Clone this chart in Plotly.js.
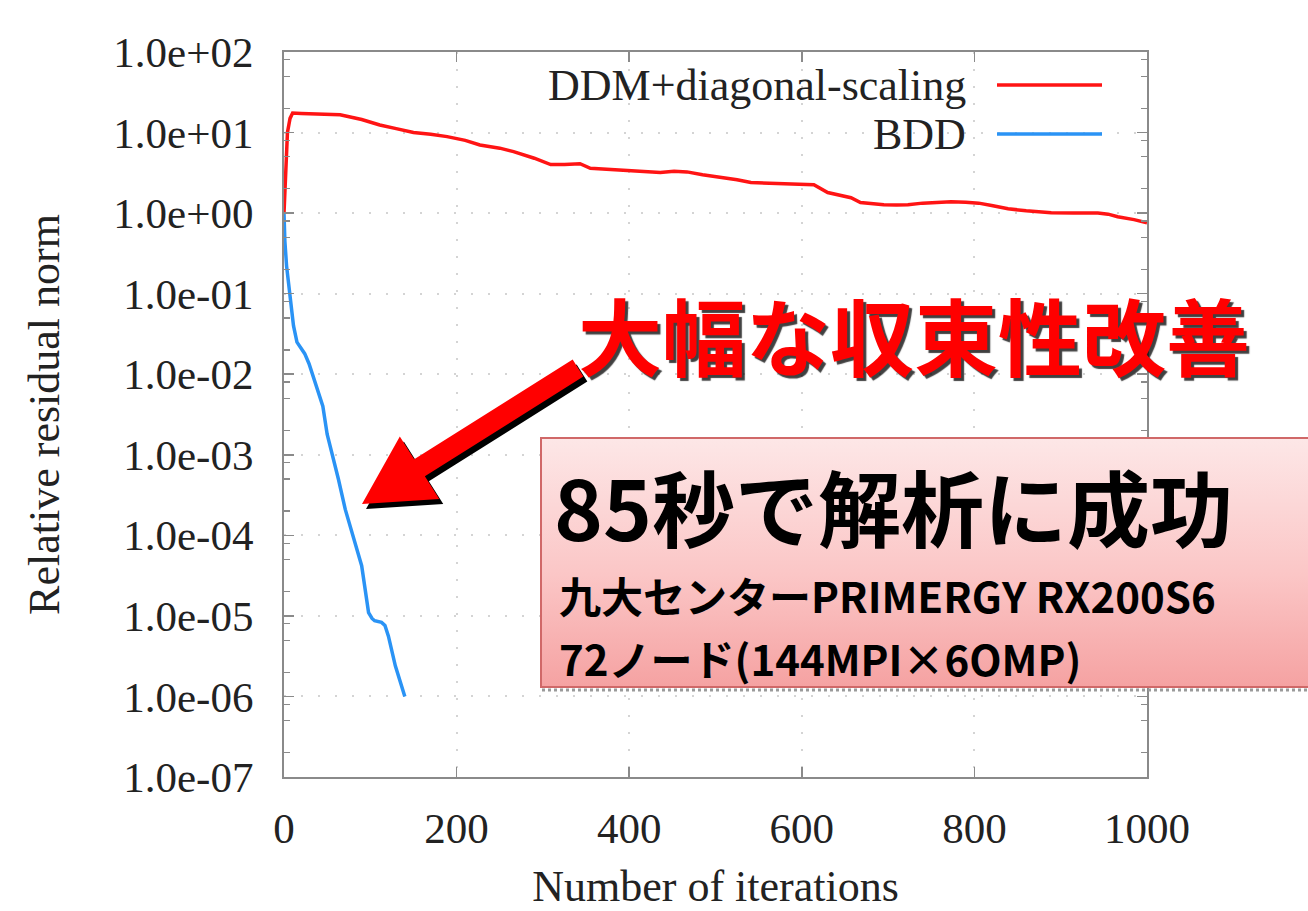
<!DOCTYPE html>
<html>
<head>
<meta charset="utf-8">
<script src="https://cdn.plot.ly/plotly-3.0.1.min.js"></script>
<style>
  html, body { margin: 0; padding: 0; background: #fff; }
  #chart { width: 1308px; height: 911px; }
</style>
</head>
<body>
<div id="chart"></div>
<script>
// Convergence history: relative residual norm vs. iteration count
const seriesNames = ['DDM+diagonal-scaling', 'BDD'];

const ddmIter = [0, 2, 4, 7, 10, 20, 40, 65, 90, 111, 130, 150, 170, 189, 210, 227, 250, 266, 290, 309,
  325, 343, 355, 375, 398, 420, 436, 452, 467, 485, 506, 525, 541, 560, 591, 614, 630, 645, 657, 668,
  680, 695, 710, 723, 740, 757, 773, 790, 805, 820, 839, 860, 889, 915, 943, 955, 966, 985, 1000];
const ddmResidual = [1.0, 4.0, 10.0, 15.0, 17.5, 17.3, 17.0, 16.6, 14.5, 12.4, 11.2, 10.0, 9.5, 8.9, 8.0, 7.0, 6.4, 5.8, 4.8, 4.0,
  4.0, 4.1, 3.6, 3.5, 3.35, 3.3, 3.2, 3.3, 3.25, 3.0, 2.8, 2.6, 2.4, 2.35, 2.3, 2.25, 1.8, 1.65, 1.55, 1.35,
  1.3, 1.27, 1.26, 1.27, 1.33, 1.36, 1.38, 1.36, 1.33, 1.24, 1.13, 1.07, 1.01, 1.0, 1.0, 0.97, 0.9, 0.83, 0.76];

const bddIter = [0, 1, 3, 5, 8, 11, 15, 20, 24, 29, 34, 40, 45, 50, 57, 63, 71, 80, 90, 98,
  102, 105, 113, 117, 121, 129, 135, 140];
const bddResidual = [1.0, 0.45, 0.22, 0.14, 0.08, 0.04, 0.025, 0.021, 0.018, 0.0135, 0.0093, 0.006, 0.004, 0.0018, 0.00095, 0.0005, 0.00021, 9.8e-5, 4.2e-5, 1.1e-5,
  9.3e-6, 8.7e-6, 8.3e-6, 7.6e-6, 5.6e-6, 2.4e-6, 1.5e-6, 1.0e-6];

const xTickVals = [0, 200, 400, 600, 800, 1000];
const yTickVals = [1e2, 1e1, 1e0, 1e-1, 1e-2, 1e-3, 1e-4, 1e-5, 1e-6, 1e-7];
const yTickText = ['1.0e+02', '1.0e+01', '1.0e+00', '1.0e-01', '1.0e-02', '1.0e-03', '1.0e-04', '1.0e-05', '1.0e-06', '1.0e-07'];

const xTitle = 'Number of iterations';
const yTitle = 'Relative residual norm';
const headline = '大幅な収束性改善';
const boxTitle = '85秒で解析に成功';
const boxLines = ['九大センターPRIMERGY RX200S6', '72ノード(144MPI×6OMP)'];

const RED = '#ff1414';
const BLUE = '#2a93f5';
const FRAME = '#8a8a8a';
const SERIF = 'Liberation Serif, Times New Roman, serif';
const CJK = 'Noto Sans CJK JP, Noto Sans, sans-serif';

// page geometry (pixels)
const W = 1308, H = 911;
const M = { l: 284, r: 161, t: 52, b: 134 };
const plotW = W - M.l - M.r, plotH = H - M.t - M.b;
const px = x => (x - M.l) / plotW;
const py = y => (H - M.b - y) / plotH;

// minor log ticks
const minorVals = [];
for (let e = -7; e < 2; e++) [2, 5, 8].forEach(m => minorVals.push(m * Math.pow(10, e)));

// callout box with vertical pink gradient
const boxX0 = 540, boxY0 = 437, boxW = 790, boxH = 251;
const boxSvg = `<svg xmlns="http://www.w3.org/2000/svg" width="${boxW}" height="${boxH}" viewBox="0 0 ${boxW} ${boxH}" preserveAspectRatio="none">` +
  `<defs><linearGradient id="g" x1="0" y1="0" x2="0" y2="1">` +
  `<stop offset="0" stop-color="#fde7e7"/><stop offset="0.55" stop-color="#fbc6c6"/><stop offset="1" stop-color="#f5a2a2"/></linearGradient></defs>` +
  `<rect x="1" y="1" width="${boxW - 2}" height="${boxH - 2}" fill="url(#g)" stroke="#d06868" stroke-width="2"/></svg>`;

// block arrow pointing at the BDD curve
function arrowPath(tip, tail, headLen, headHalf, shaftHalf, dx, dy) {
  const vx = tail[0] - tip[0], vy = tail[1] - tip[1];
  const len = Math.hypot(vx, vy);
  const ux = vx / len, uy = vy / len;
  const nx = -uy, ny = ux;
  const bx = tip[0] + headLen * ux, by = tip[1] + headLen * uy;
  const pts = [
    [tip[0], tip[1]],
    [bx + headHalf * nx, by + headHalf * ny],
    [bx + shaftHalf * nx, by + shaftHalf * ny],
    [tail[0] + shaftHalf * nx, tail[1] + shaftHalf * ny],
    [tail[0] - shaftHalf * nx, tail[1] - shaftHalf * ny],
    [bx - shaftHalf * nx, by - shaftHalf * ny],
    [bx - headHalf * nx, by - headHalf * ny]
  ];
  return 'M ' + pts.map(p => `${px(p[0] + dx).toFixed(5)},${py(p[1] + dy).toFixed(5)}`).join(' L ') + ' Z';
}
const arrowTip = [362, 504], arrowTail = [578, 368];

const traces = [
  { x: bddIter, y: bddResidual, name: seriesNames[1], mode: 'lines',
    line: { color: BLUE, width: 3.5 }, showlegend: false },
  { x: ddmIter, y: ddmResidual, name: seriesNames[0], mode: 'lines',
    line: { color: RED, width: 3.5 }, showlegend: false }
];

const axisCommon = {
  showline: true, linecolor: FRAME, linewidth: 2, mirror: 'ticks',
  ticks: 'inside', ticklen: 10, tickwidth: 1.5, tickcolor: FRAME,
  showgrid: true, gridcolor: '#d4d4d4', gridwidth: 2, griddash: '2px,15px',
  zeroline: false, automargin: false,
  tickfont: { family: SERIF, size: 43, color: '#222' }
};

const layout = {
  width: W, height: H,
  margin: M,
  paper_bgcolor: '#fff', plot_bgcolor: '#fff',
  showlegend: false,
  xaxis: Object.assign({}, axisCommon, {
    range: [0, 1000], tickmode: 'array', tickvals: xTickVals,
    ticklabelstandoff: 12,
    title: { text: xTitle, font: { family: SERIF, size: 44, color: '#222' }, standoff: 20 }
  }),
  yaxis: Object.assign({}, axisCommon, {
    type: 'log', range: [-7, 2], tickmode: 'array', tickvals: yTickVals, ticktext: yTickText,
    ticklabelstandoff: 20,
    minor: { tickmode: 'array', tickvals: minorVals, ticks: 'inside', ticklen: 6, tickwidth: 1.2, tickcolor: FRAME, showgrid: false },
    title: { text: yTitle, font: { family: SERIF, size: 44, color: '#222' }, standoff: 40 }
  }),
  images: [{
    source: 'data:image/svg+xml;charset=utf-8,' + encodeURIComponent(boxSvg),
    xref: 'paper', yref: 'paper', x: px(boxX0), y: py(boxY0),
    sizex: boxW / plotW, sizey: boxH / plotH, xanchor: 'left', yanchor: 'top',
    sizing: 'stretch', layer: 'above'
  }],
  shapes: [
    // legend samples
    { type: 'line', xref: 'paper', yref: 'paper', x0: px(997), x1: px(1102), y0: py(85), y1: py(85),
      line: { color: RED, width: 3.5 } },
    { type: 'line', xref: 'paper', yref: 'paper', x0: px(997), x1: px(1102), y0: py(134), y1: py(134),
      line: { color: BLUE, width: 3.5 } },
    // shadow under the callout box
    { type: 'line', xref: 'paper', yref: 'paper', x0: px(boxX0 + 2), x1: px(W + 10), y0: py(boxY0 + boxH + 2), y1: py(boxY0 + boxH + 2),
      line: { color: '#9a9a9a', width: 3, dash: 'dot' } },
    // arrow shadow and arrow
    { type: 'path', xref: 'paper', yref: 'paper', path: arrowPath(arrowTip, arrowTail, 68, 37, 10, 4, 5),
      fillcolor: '#000', line: { width: 0 } },
    { type: 'path', xref: 'paper', yref: 'paper', path: arrowPath(arrowTip, arrowTail, 68, 37, 10, 0, 0),
      fillcolor: '#ff0000', line: { width: 0 } }
  ],
  annotations: [
    // legend labels
    { xref: 'paper', yref: 'paper', x: px(968), y: py(85), xanchor: 'right', yanchor: 'middle',
      text: seriesNames[0], showarrow: false, font: { family: SERIF, size: 44, color: '#222' } },
    { xref: 'paper', yref: 'paper', x: px(968), y: py(134), xanchor: 'right', yanchor: 'middle',
      text: seriesNames[1], showarrow: false, font: { family: SERIF, size: 44, color: '#222' } },
    // headline
    { xref: 'paper', yref: 'paper', x: px(914), y: py(333), xanchor: 'center', yanchor: 'middle',
      text: headline, showarrow: false,
      font: { family: CJK, size: 84, weight: 'bold', color: '#ff0000', shadow: '3px 3px 1px rgba(0,0,0,0.75)' } },
    // callout text
    { xref: 'paper', yref: 'paper', x: px(552), y: py(505), xanchor: 'left', yanchor: 'middle',
      text: boxTitle, showarrow: false, font: { family: CJK, size: 83, weight: 'bold', color: '#000' } },
    { xref: 'paper', yref: 'paper', x: px(557), y: py(594), xanchor: 'left', yanchor: 'middle',
      text: boxLines[0], showarrow: false, font: { family: CJK, size: 42, weight: 'bold', color: '#000' } },
    { xref: 'paper', yref: 'paper', x: px(557), y: py(657), xanchor: 'left', yanchor: 'middle',
      text: boxLines[1], showarrow: false, font: { family: CJK, size: 42, weight: 'bold', color: '#000' } }
  ]
};

Plotly.newPlot('chart', traces, layout, { staticPlot: true, displayModeBar: false });
</script>
</body>
</html>
